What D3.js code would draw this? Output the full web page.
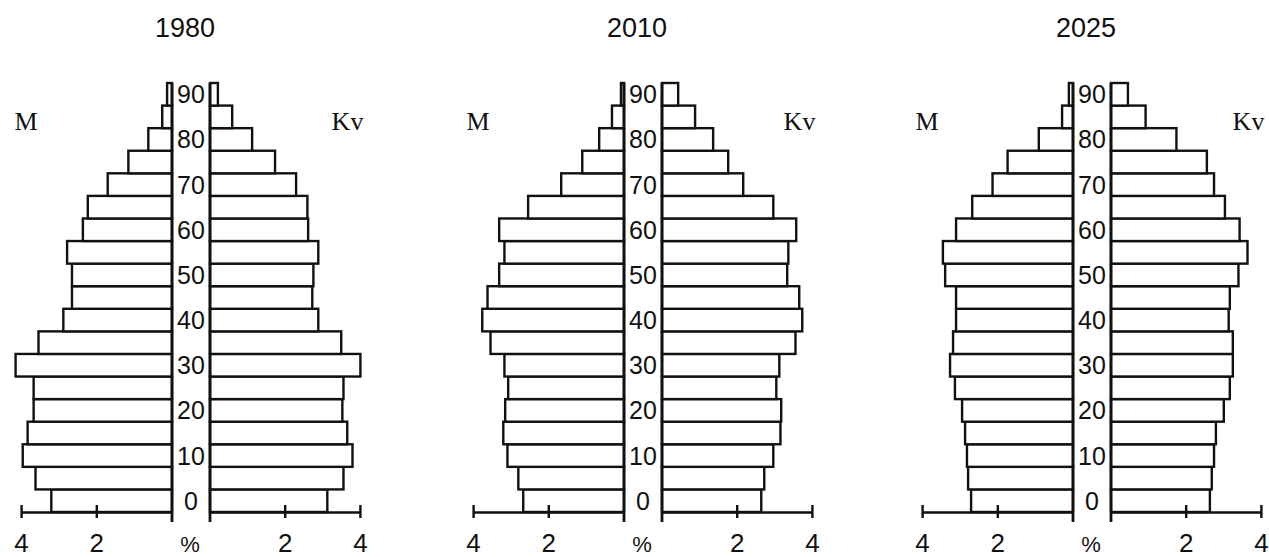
<!DOCTYPE html>
<html>
<head>
<meta charset="utf-8">
<script src="https://cdn.jsdelivr.net/npm/d3@7"></script>
<style>
  html, body { margin: 0; padding: 0; background: #fff; }
  svg { display: block; }
  text { fill: #111; }
</style>
</head>
<body>
<div id="chart"></div>
<script>
// age groups (start of each 5-year band, 90 = 90+)
const ageGroups = [0, 5, 10, 15, 20, 25, 30, 35, 40, 45, 50, 55, 60, 65, 70, 75, 80, 85, 90];
const ageLabels = [0, 10, 20, 30, 40, 50, 60, 70, 80, 90];
const years = ["1980", "2010", "2025"];
const axisTicks = [4, 2, 0];

// share of population, %
const male1980 = [3.21, 3.63, 3.97, 3.84, 3.68, 3.68, 4.16, 3.55, 2.89, 2.66, 2.66, 2.79, 2.37, 2.24, 1.71, 1.16, 0.63, 0.26, 0.13];
const female1980 = [3.12, 3.55, 3.79, 3.65, 3.52, 3.55, 4.0, 3.49, 2.88, 2.72, 2.75, 2.88, 2.61, 2.59, 2.29, 1.73, 1.12, 0.59, 0.21];
const male2010 = [2.68, 2.81, 3.10, 3.21, 3.16, 3.08, 3.18, 3.55, 3.77, 3.63, 3.32, 3.18, 3.32, 2.55, 1.67, 1.11, 0.66, 0.32, 0.08];
const female2010 = [2.64, 2.72, 2.96, 3.15, 3.17, 3.04, 3.12, 3.55, 3.73, 3.65, 3.33, 3.36, 3.57, 2.96, 2.16, 1.76, 1.36, 0.88, 0.43];
const male2025 = [2.71, 2.79, 2.82, 2.87, 2.95, 3.14, 3.27, 3.19, 3.11, 3.11, 3.40, 3.46, 3.11, 2.68, 2.14, 1.74, 0.91, 0.29, 0.11];
const female2025 = [2.63, 2.68, 2.74, 2.79, 3.0, 3.16, 3.24, 3.24, 3.13, 3.16, 3.39, 3.63, 3.42, 3.03, 2.74, 2.55, 1.74, 0.92, 0.45];

const maleSeries = [male1980, male2010, male2025];
const femaleSeries = [female1980, female2010, female2025];

const width = 1269;
const height = 557;
const centers = [191, 643, 1092];
const halfGap = 19;
const pxPerUnit = 37.6;
const axisY = 512;
const topY = 83;

const svg = d3.select("#chart")
  .append("svg")
  .attr("width", width)
  .attr("height", height)
  .attr("viewBox", [0, 0, width, height]);

const y = d3.scaleBand()
  .domain(ageGroups)
  .range([axisY, topY])
  .padding(0);

years.forEach((year, i) => {
  const cx = centers[i];
  const xL = d3.scaleLinear().domain([0, 4]).range([cx - halfGap, cx - halfGap - 4 * pxPerUnit]);
  const xR = d3.scaleLinear().domain([0, 4]).range([cx + halfGap, cx + halfGap + 4 * pxPerUnit]);

  const g = svg.append("g").attr("class", "pyramid");

  // title
  g.append("text")
    .attr("x", cx - 6)
    .attr("y", 37)
    .attr("text-anchor", "middle")
    .style("font", "27px 'Liberation Sans', Arial, sans-serif")
    .text(year);

  // sex labels
  g.append("text")
    .attr("x", xL(4) - 7)
    .attr("y", 130)
    .style("font", "26px 'Liberation Serif', 'Times New Roman', serif")
    .text("M");
  g.append("text")
    .attr("x", xR(4) + 3)
    .attr("y", 130)
    .attr("text-anchor", "end")
    .style("font", "26px 'Liberation Serif', 'Times New Roman', serif")
    .text("Kv");

  const males = ageGroups.map((a, k) => ({ age: a, value: maleSeries[i][k] }));
  const females = ageGroups.map((a, k) => ({ age: a, value: femaleSeries[i][k] }));

  g.selectAll("rect.male")
    .data(males)
    .join("rect")
    .attr("class", "male")
    .attr("x", (d) => xL(d.value))
    .attr("y", (d) => y(d.age))
    .attr("width", (d) => xL(0) - xL(d.value))
    .attr("height", y.bandwidth())
    .attr("fill", "#fff")
    .attr("stroke", "#111")
    .attr("stroke-width", 2.4);

  g.selectAll("rect.female")
    .data(females)
    .join("rect")
    .attr("class", "female")
    .attr("x", xR(0))
    .attr("y", (d) => y(d.age))
    .attr("width", (d) => xR(d.value) - xR(0))
    .attr("height", y.bandwidth())
    .attr("fill", "#fff")
    .attr("stroke", "#111")
    .attr("stroke-width", 2.4);

  // central band
  [xL(0), xR(0)].forEach((lx) => {
    g.append("line")
      .attr("x1", lx).attr("x2", lx)
      .attr("y1", topY).attr("y2", axisY + 10)
      .attr("stroke", "#111")
      .attr("stroke-width", 2.8);
  });

  // age labels
  g.selectAll("text.age")
    .data(ageLabels)
    .join("text")
    .attr("class", "age")
    .attr("x", cx)
    .attr("y", (d) => y(d) + y.bandwidth() / 2)
    .attr("dy", "0.36em")
    .attr("text-anchor", "middle")
    .style("font", "25px 'Liberation Sans', Arial, sans-serif")
    .text((d) => d);

  // bottom axes
  const axisL = d3.axisBottom(xL).tickValues(axisTicks).tickSize(0).tickFormat("");
  const axisR = d3.axisBottom(xR).tickValues(axisTicks).tickSize(0).tickFormat("");
  [axisL, axisR].forEach((ax) => {
    const a = g.append("g").attr("transform", `translate(0,${axisY})`).call(ax);
    a.select(".domain").attr("stroke", "#111").attr("stroke-width", 2.4);
  });

  [xL, xR].forEach((sc) => {
    g.selectAll(null)
      .data([4, 2])
      .join("line")
      .attr("x1", (d) => sc(d)).attr("x2", (d) => sc(d))
      .attr("y1", axisY - 7).attr("y2", axisY + 6)
      .attr("stroke", "#111")
      .attr("stroke-width", 2.4);

    g.selectAll(null)
      .data([4, 2])
      .join("text")
      .attr("x", (d) => sc(d))
      .attr("y", 552)
      .attr("text-anchor", "middle")
      .style("font", "26px 'Liberation Sans', Arial, sans-serif")
      .text((d) => d);
  });

  g.append("text")
    .attr("x", cx - 1)
    .attr("y", 552)
    .attr("text-anchor", "middle")
    .style("font", "22px 'Liberation Sans', Arial, sans-serif")
    .text("%");
});
</script>
</body>
</html>
